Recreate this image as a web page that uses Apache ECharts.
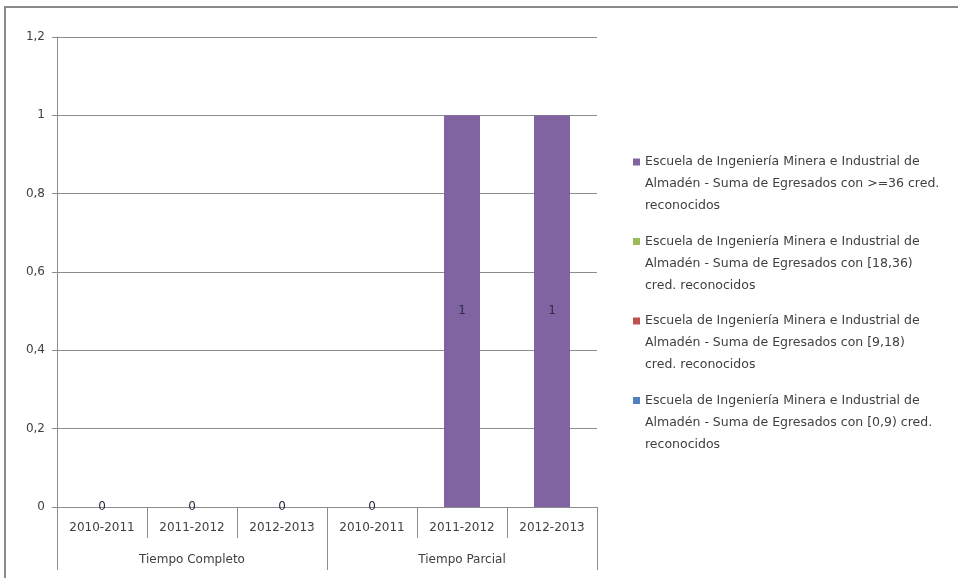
<!DOCTYPE html>
<html>
<head>
<meta charset="utf-8">
<script src="https://cdn.jsdelivr.net/npm/echarts@6/dist/echarts.min.js"></script>
<style>html,body{margin:0;padding:0;background:#fff}#c{width:958px;height:578px}</style>
</head>
<body>
<div id="c"></div>
<script>
// ---- data ----
const categories = ['2010-2011', '2011-2012', '2012-2013', '2010-2011', '2011-2012', '2012-2013'];
const groups = ['Tiempo Completo', 'Tiempo Parcial'];
const seriesNames = [
  'Escuela de Ingeniería Minera e Industrial de\nAlmadén - Suma de Egresados con [0,9) cred.\nreconocidos',
  'Escuela de Ingeniería Minera e Industrial de\nAlmadén - Suma de Egresados con [9,18)\ncred. reconocidos',
  'Escuela de Ingeniería Minera e Industrial de\nAlmadén - Suma de Egresados con [18,36)\ncred. reconocidos',
  'Escuela de Ingeniería Minera e Industrial de\nAlmadén - Suma de Egresados con >=36 cred.\nreconocidos'
];
const seriesColors = ['#4F81BD', '#C0504D', '#9BBB59', '#8064A2'];
const values0to9 = [null, null, null, null, null, null];
const values9to18 = [null, null, null, null, null, null];
const values18to36 = [null, null, null, null, null, null];
const values36plus = [0, 0, 0, 0, 1, 1];
const seriesValues = [values0to9, values9to18, values18to36, values36plus];
const yMin = 0, yMax = 1.2, yStep = 0.2;

// ---- chart ----
const FONT = 'DejaVu Sans';
const GRAY = '#8c8c8c';
const chart = echarts.init(document.getElementById('c'), null, {renderer: 'canvas'});

const series = seriesNames.map((name, i) => ({
  name: name,
  type: 'bar',
  stack: 'total',
  barWidth: 36,
  xAxisIndex: 0,
  data: seriesValues[i],
  itemStyle: {color: seriesColors[i]},
  label: {
    show: true,
    position: 'inside',
    color: '#2e2a44',
    fontFamily: FONT,
    fontSize: 12
  }
}));

chart.setOption({
  animation: false,
  backgroundColor: '#ffffff',
  graphic: [
    {type: 'line', shape: {x1: 4, y1: 7, x2: 958, y2: 7}, style: {stroke: '#8a8a8a', lineWidth: 2}},
    {type: 'line', shape: {x1: 5, y1: 6, x2: 5, y2: 578}, style: {stroke: '#8a8a8a', lineWidth: 2}}
  ],
  grid: {left: 57, right: 361, top: 37, bottom: 71, containLabel: false},
  legend: {
    orient: 'vertical',
    left: 628,
    top: 146,
    padding: 5,
    itemGap: 13.5,
    itemWidth: 7,
    itemHeight: 51,
    icon: 'path://M0,0h7v7h-7z M3,51h0.01',
    data: seriesNames.slice().reverse(),
    textStyle: {fontFamily: FONT, fontSize: 12.5, lineHeight: 22, color: '#404040'}
  },
  xAxis: [
    {
      type: 'category',
      data: categories,
      position: 'bottom',
      axisLine: {show: true, lineStyle: {color: GRAY}},
      axisTick: {show: true, interval: 0, length: 31, alignWithLabel: false, lineStyle: {color: GRAY}},
      axisLabel: {interval: 0, margin: 15, fontFamily: FONT, fontSize: 12, color: '#404040'},
      splitLine: {show: false}
    },
    {
      type: 'category',
      data: groups,
      position: 'bottom',
      offset: 0,
      axisLine: {show: false},
      axisTick: {show: true, interval: 0, length: 63, alignWithLabel: false, lineStyle: {color: GRAY}},
      axisLabel: {interval: 0, margin: 47, fontFamily: FONT, fontSize: 12, color: '#404040'},
      splitLine: {show: false}
    }
  ],
  yAxis: {
    type: 'value',
    min: yMin,
    max: yMax,
    interval: yStep,
    axisLine: {show: true, lineStyle: {color: GRAY}},
    axisTick: {show: true, length: 5, lineStyle: {color: GRAY}},
    axisLabel: {
      margin: 12,
      fontFamily: FONT,
      fontSize: 12,
      color: '#404040',
      formatter: v => String(Math.round(v * 10) / 10).replace('.', ',')
    },
    splitLine: {show: true, lineStyle: {color: GRAY, width: 1}}
  },
  series: series
});
</script>
</body>
</html>
